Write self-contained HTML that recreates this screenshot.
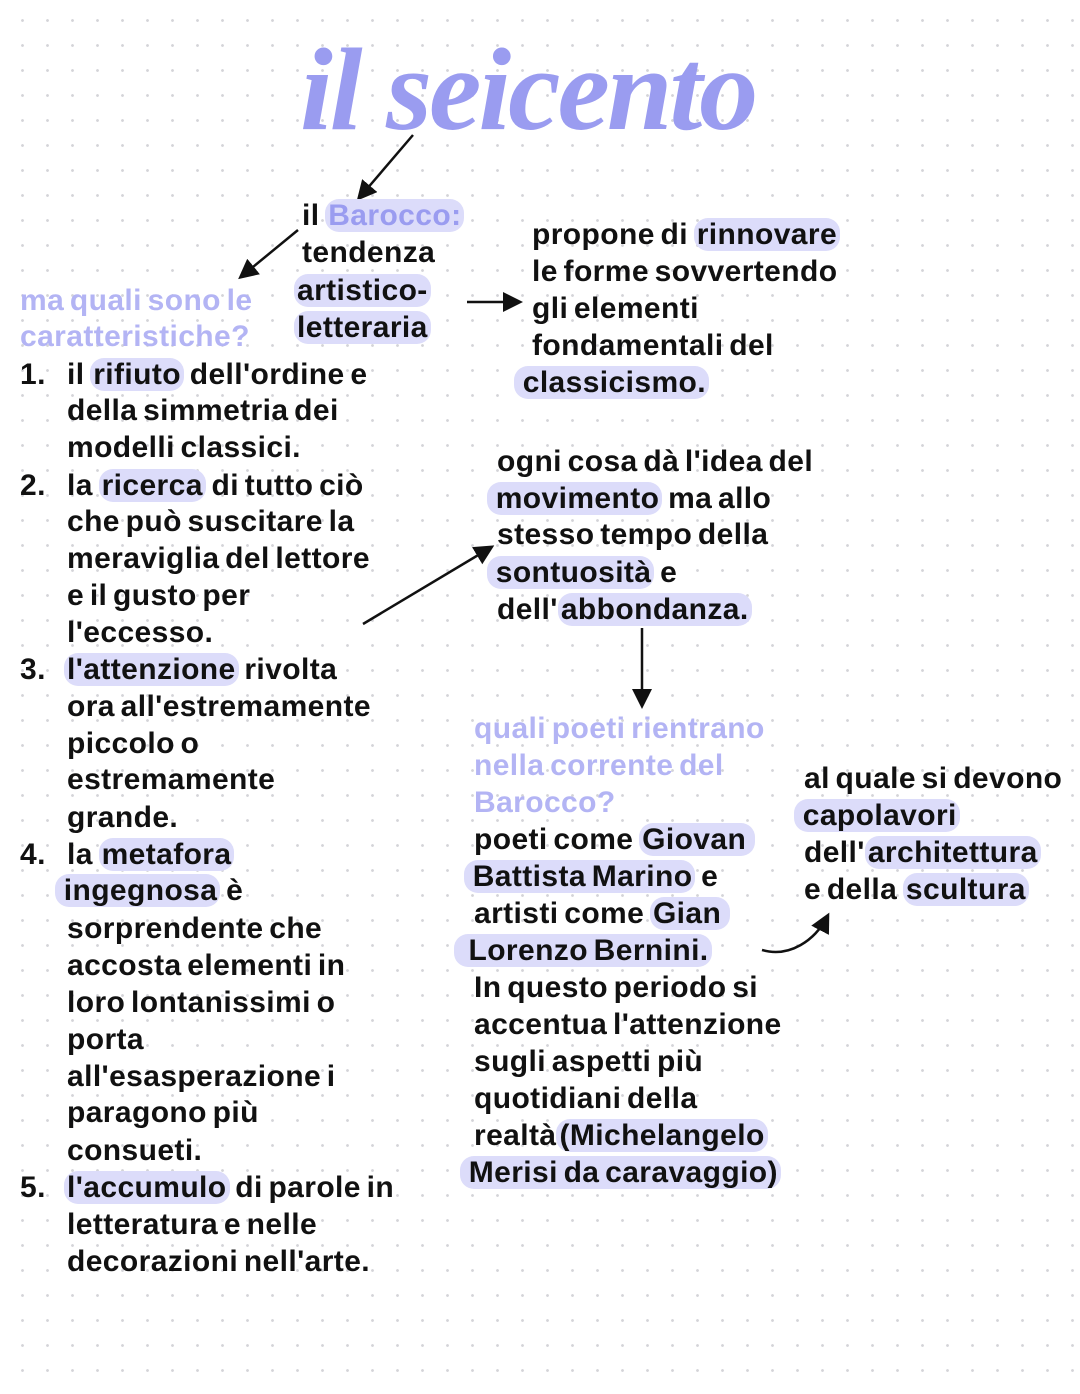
<!DOCTYPE html>
<html><head><meta charset="utf-8"><style>
html,body{margin:0;padding:0}
body{width:1080px;height:1394px;position:relative;overflow:hidden;background:#fff;
background-image:radial-gradient(circle,#d4d4d8 1.2px,transparent 1.6px);background-size:25px 25px;background-position:10px 8px;
font-family:"Liberation Sans",sans-serif;font-weight:bold;color:#111;}
.l{position:absolute;white-space:nowrap;font-size:30px;line-height:36px;height:36px;letter-spacing:0.4px;word-spacing:-3px}
.p{color:#9a9cf0}
.lp{color:#b3b4f4;font-weight:bold}
.h{background:#dcdcfa;border-radius:14px;padding:0 3px}
.t{position:absolute;left:300px;top:22px;font-family:"Liberation Serif",serif;font-style:italic;font-weight:bold;font-size:118px;color:#9a9cf0;white-space:nowrap;letter-spacing:-3px}
svg{position:absolute;left:0;top:0}
</style></head><body>
<div class="t">il seicento</div>
<svg width="1080" height="1394"><defs><marker id="a" markerWidth="8" markerHeight="8" refX="6" refY="4" orient="auto"><path d="M0,0 L8,4 L0,8 Z" fill="#111"/></marker></defs>
<g stroke="#111" stroke-width="2.5" fill="none" marker-end="url(#a)">
<line x1="413" y1="135" x2="360" y2="197"/>
<line x1="298" y1="230" x2="242" y2="276"/>
<line x1="467" y1="302" x2="518" y2="302"/>
<line x1="363" y1="624" x2="490" y2="548"/>
<line x1="642" y1="628" x2="642" y2="704"/>
<path d="M762 950 C790 958 815 940 827 917"/>
</g></svg>

<div class="l" style="left:302px;top:198px">il <span class="h p">Barocco:</span></div>
<div class="l" style="left:302px;top:235px">tendenza</div>
<div class="l" style="left:294px;top:273px"><span class="h">artistico-</span></div>
<div class="l" style="left:294px;top:310px"><span class="h">letteraria</span></div>
<div class="l lp" style="left:20px;top:283px">ma quali sono le</div>
<div class="l lp" style="left:20px;top:319px">caratteristiche?</div>

<div class="l" style="left:532px;top:217px">propone di <span class="h">rinnovare</span></div>
<div class="l" style="left:532px;top:254px">le forme sovvertendo</div>
<div class="l" style="left:532px;top:291px">gli elementi</div>
<div class="l" style="left:532px;top:328px">fondamentali del</div>
<div class="l" style="left:514px;top:365px"><span class="h">&nbsp;classicismo.</span></div>

<div class="l" style="left:20px;top:357px">1.</div>
<div class="l" style="left:67px;top:357px">il <span class="h">rifiuto</span> dell'ordine e</div>
<div class="l" style="left:67px;top:393px">della simmetria dei</div>
<div class="l" style="left:67px;top:430px">modelli classici.</div>
<div class="l" style="left:20px;top:468px">2.</div>
<div class="l" style="left:67px;top:468px">la <span class="h">ricerca</span> di tutto ciò</div>
<div class="l" style="left:67px;top:504px">che può suscitare la</div>
<div class="l" style="left:67px;top:541px">meraviglia del lettore</div>
<div class="l" style="left:67px;top:578px">e il gusto per</div>
<div class="l" style="left:67px;top:615px">l'eccesso.</div>
<div class="l" style="left:20px;top:652px">3.</div>
<div class="l" style="left:64px;top:652px"><span class="h">l'attenzione</span> rivolta</div>
<div class="l" style="left:67px;top:689px">ora all'estremamente</div>
<div class="l" style="left:67px;top:726px">piccolo o</div>
<div class="l" style="left:67px;top:762px">estremamente</div>
<div class="l" style="left:67px;top:800px">grande.</div>
<div class="l" style="left:20px;top:837px">4.</div>
<div class="l" style="left:67px;top:837px">la <span class="h">metafora</span></div>
<div class="l" style="left:55px;top:873px"><span class="h">&nbsp;ingegnosa</span> è</div>
<div class="l" style="left:67px;top:911px">sorprendente che</div>
<div class="l" style="left:67px;top:948px">accosta elementi in</div>
<div class="l" style="left:67px;top:985px">loro lontanissimi o</div>
<div class="l" style="left:67px;top:1022px">porta</div>
<div class="l" style="left:67px;top:1059px">all'esasperazione i</div>
<div class="l" style="left:67px;top:1095px">paragono più</div>
<div class="l" style="left:67px;top:1133px">consueti.</div>
<div class="l" style="left:20px;top:1170px">5.</div>
<div class="l" style="left:64px;top:1170px"><span class="h">l'accumulo</span> di parole in</div>
<div class="l" style="left:67px;top:1207px">letteratura e nelle</div>
<div class="l" style="left:67px;top:1244px">decorazioni nell'arte.</div>

<div class="l" style="left:497px;top:444px">ogni cosa dà l'idea del</div>
<div class="l" style="left:487px;top:481px"><span class="h">&nbsp;movimento</span> ma allo</div>
<div class="l" style="left:497px;top:517px">stesso tempo della</div>
<div class="l" style="left:487px;top:555px"><span class="h">&nbsp;sontuosità</span> e</div>
<div class="l" style="left:497px;top:592px">dell'<span class="h">abbondanza.</span></div>

<div class="l lp" style="left:474px;top:711px">quali poeti rientrano</div>
<div class="l lp" style="left:474px;top:748px">nella corrente del</div>
<div class="l lp" style="left:474px;top:785px">Barocco?</div>
<div class="l" style="left:474px;top:822px">poeti come <span class="h">Giovan&nbsp;</span></div>
<div class="l" style="left:464px;top:859px"><span class="h">&nbsp;Battista Marino</span> e</div>
<div class="l" style="left:474px;top:896px">artisti come <span class="h">Gian&nbsp;</span></div>
<div class="l" style="left:454px;top:933px"><span class="h">&nbsp;&nbsp;Lorenzo Bernini.</span></div>
<div class="l" style="left:474px;top:970px">In questo periodo si</div>
<div class="l" style="left:474px;top:1007px">accentua l'attenzione</div>
<div class="l" style="left:474px;top:1044px">sugli aspetti più</div>
<div class="l" style="left:474px;top:1081px">quotidiani della</div>
<div class="l" style="left:474px;top:1118px">realtà<span class="h">(Michelangelo</span></div>
<div class="l" style="left:460px;top:1155px"><span class="h">&nbsp;Merisi da caravaggio)</span></div>

<div class="l" style="left:804px;top:761px">al quale si devono</div>
<div class="l" style="left:794px;top:798px"><span class="h">&nbsp;capolavori</span></div>
<div class="l" style="left:804px;top:835px">dell'<span class="h">architettura</span></div>
<div class="l" style="left:804px;top:872px">e della <span class="h">scultura</span></div>
</body></html>
